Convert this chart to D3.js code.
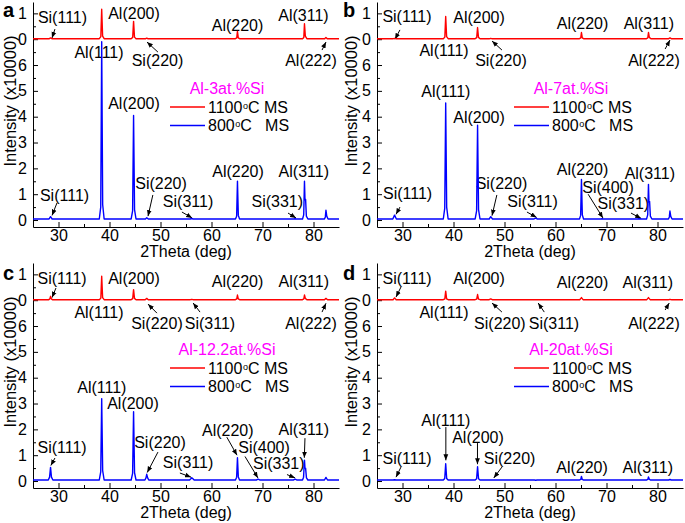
<!DOCTYPE html>
<html><head><meta charset="utf-8">
<script src="https://cdn.jsdelivr.net/npm/d3@7"></script>
<style>
body{margin:0;background:#fff}
svg{display:block}
text{font-family:"Liberation Sans",Arial,sans-serif;fill:#000}
</style>
</head><body>
<svg id="chart" width="685" height="523"></svg>
<script>
// ---------- data ----------
const xDomain = [25, 85];
const xTicks = [30, 40, 50, 60, 70, 80];
const xMinorTicks = [35, 45, 55, 65, 75];
const yTicks = [0, 1, 2, 3, 4, 5, 6, 7, 8];
const yTickLabels = ["0", "1", "2", "3", "4", "5", "6", "0", "1"];
const yMinorTicks = [0.5, 1.5, 2.5, 3.5, 4.5, 5.5, 6.5, 7.5];
const redOffset = 7; // broken axis: upper segment shows 1100C pattern from 0
const panelLetters = ["a", "b", "c", "d"];
const alloyNames = ["Al-3at.%Si", "Al-7at.%Si", "Al-12.2at.%Si", "Al-20at.%Si"];
const seriesTemps = ["1100", "800"];
const seriesTails = ["C MS", "C   MS"];
const xTitle = "2Theta (deg)";
const yTitle = "Intensity (x10000)";

// [2theta, intensity x10000]
const red_a = [[25,0.02],[28.2,0.02],[28.44,0.05],[28.7,0.02],
 [38.0,0.02],[38.3,0.1],[38.47,1.16],[38.65,0.12],[38.95,0.02],
 [44.25,0.02],[44.55,0.07],[44.72,0.69],[44.9,0.08],[45.2,0.02],
 [47.1,0.02],[47.3,0.04],[47.5,0.02],
 [64.7,0.02],[64.95,0.05],[65.09,0.3],[65.25,0.05],[65.5,0.02],
 [77.85,0.02],[78.1,0.07],[78.23,0.6],[78.4,0.12],[78.7,0.02],
 [82.2,0.02],[82.44,0.07],[82.7,0.02],[85,0.02]];
const blue_a = [[25,0.04],[28.15,0.04],[28.44,0.13],[28.75,0.04],
 [38.0,0.04],[38.28,0.5],[38.47,6.9],[38.66,0.6],[38.95,0.04],
 [44.25,0.04],[44.53,0.35],[44.72,4.05],[44.91,0.4],[45.2,0.04],
 [47.05,0.04],[47.3,0.09],[47.6,0.04],
 [55.85,0.04],[56.12,0.06],[56.4,0.04],
 [64.7,0.04],[64.93,0.15],[65.09,1.5],[65.26,0.18],[65.5,0.04],
 [76.1,0.04],[76.38,0.05],[76.65,0.04],
 [77.85,0.04],[78.08,0.2],[78.23,1.5],[78.33,0.78],[78.45,0.8],[78.6,0.15],[78.9,0.04],
 [82.15,0.04],[82.32,0.12],[82.44,0.38],[82.6,0.15],[82.85,0.04],[85,0.04]];

const red_b = [[25,0.02],[28.2,0.02],[28.44,0.03],[28.7,0.02],
 [38.0,0.02],[38.3,0.08],[38.47,0.88],[38.65,0.1],[38.95,0.02],
 [44.25,0.02],[44.55,0.06],[44.72,0.45],[44.9,0.07],[45.2,0.02],
 [47.1,0.02],[47.3,0.03],[47.5,0.02],
 [64.7,0.02],[64.95,0.05],[65.09,0.26],[65.25,0.05],[65.5,0.02],
 [77.85,0.02],[78.1,0.05],[78.23,0.26],[78.4,0.07],[78.7,0.02],
 [82.2,0.02],[82.44,0.05],[82.7,0.02],[85,0.02]];
const blue_b = [[25,0.04],[28.1,0.04],[28.44,0.19],[28.8,0.04],
 [38.0,0.04],[38.28,0.45],[38.47,4.53],[38.66,0.5],[38.95,0.04],
 [44.25,0.04],[44.53,0.35],[44.72,3.67],[44.91,0.4],[45.2,0.04],
 [47.0,0.04],[47.3,0.13],[47.65,0.04],
 [55.8,0.04],[56.12,0.07],[56.45,0.04],
 [64.7,0.04],[64.93,0.18],[65.09,1.57],[65.26,0.2],[65.5,0.04],
 [68.9,0.04],[69.13,0.05],[69.4,0.04],
 [76.1,0.04],[76.38,0.05],[76.65,0.04],
 [77.85,0.04],[78.08,0.2],[78.23,1.38],[78.33,0.7],[78.45,0.72],[78.6,0.15],[78.9,0.04],
 [82.15,0.04],[82.32,0.12],[82.44,0.35],[82.6,0.14],[82.85,0.04],[85,0.04]];

const red_c = [[25,0.02],[28.1,0.02],[28.3,0.05],[28.44,0.15],[28.6,0.05],[28.8,0.02],
 [38.0,0.02],[38.3,0.08],[38.47,0.93],[38.65,0.1],[38.95,0.02],
 [44.25,0.02],[44.55,0.06],[44.72,0.41],[44.9,0.07],[45.2,0.02],
 [47.0,0.02],[47.3,0.07],[47.6,0.02],
 [55.85,0.02],[56.12,0.03],[56.4,0.02],
 [64.7,0.02],[64.95,0.05],[65.09,0.2],[65.25,0.05],[65.5,0.02],
 [77.85,0.02],[78.1,0.05],[78.23,0.2],[78.4,0.07],[78.7,0.02],
 [82.15,0.02],[82.44,0.07],[82.75,0.02],[85,0.02]];
const blue_c = [[25,0.04],[28.0,0.04],[28.25,0.15],[28.44,0.53],[28.62,0.15],[28.9,0.04],
 [38.0,0.04],[38.28,0.35],[38.47,3.19],[38.66,0.4],[38.95,0.04],
 [44.25,0.04],[44.53,0.3],[44.72,2.68],[44.91,0.32],[45.2,0.04],
 [46.95,0.04],[47.15,0.12],[47.3,0.26],[47.48,0.12],[47.7,0.04],
 [55.7,0.04],[56.0,0.1],[56.12,0.13],[56.3,0.1],[56.6,0.04],
 [64.7,0.04],[64.93,0.15],[65.09,0.9],[65.26,0.16],[65.5,0.04],
 [68.8,0.04],[69.13,0.07],[69.45,0.04],
 [76.05,0.04],[76.38,0.07],[76.7,0.04],
 [77.85,0.04],[78.05,0.15],[78.23,0.81],[78.33,0.5],[78.45,0.5],[78.62,0.12],[78.9,0.04],
 [82.15,0.04],[82.44,0.14],[82.75,0.04],[85,0.04]];

const red_d = [[25,0.02],[28.15,0.02],[28.44,0.09],[28.75,0.02],
 [38.0,0.02],[38.3,0.05],[38.47,0.35],[38.65,0.05],[38.95,0.02],
 [44.25,0.02],[44.55,0.04],[44.72,0.22],[44.9,0.04],[45.2,0.02],
 [47.0,0.02],[47.3,0.05],[47.6,0.02],
 [55.85,0.02],[56.12,0.02],[56.4,0.02],
 [64.75,0.02],[65.09,0.1],[65.4,0.02],
 [77.9,0.02],[78.23,0.1],[78.55,0.02],
 [82.2,0.02],[82.44,0.03],[82.7,0.02],[85,0.02]];
const blue_d = [[25,0.04],[28.15,0.04],[28.44,0.05],[28.75,0.04],
 [38.0,0.04],[38.28,0.1],[38.47,0.67],[38.66,0.1],[38.95,0.04],
 [44.25,0.04],[44.53,0.09],[44.72,0.55],[44.91,0.09],[45.2,0.04],
 [47.05,0.04],[47.3,0.04],[47.55,0.04],
 [55.85,0.04],[56.12,0.03],[56.4,0.04],
 [64.75,0.04],[64.95,0.06],[65.09,0.18],[65.25,0.06],[65.45,0.04],
 [77.9,0.04],[78.1,0.06],[78.23,0.16],[78.4,0.07],[78.6,0.04],
 [82.2,0.04],[82.44,0.06],[82.7,0.04],[85,0.04]];

// annotation: [text, label 2theta, label value, arrow tail 2theta, tail value, head 2theta, head value]
const notes_a = [
 ["Si(111)", 30.78, 7.86, 29.3, 7.39, 28.73, 7.05],
 ["Al(200)", 44.8, 7.98],
 ["Al(220)", 65.1, 7.55],
 ["Al(311)", 78.04, 7.94],
 ["Al(111)", 37.94, 6.5],
 ["Si(220)", 49.41, 6.16, 49.5, 6.5, 47.35, 6.89],
 ["Al(222)", 79.5, 6.16, 81.67, 6.58, 82.45, 6.89],
 ["Al(200)", 44.8, 4.53],
 ["Si(111)", 31.18, 0.97, 29.7, 0.66, 28.73, 0.18],
 ["Si(220)", 50.1, 1.43, 48.5, 0.97, 47.55, 0.15],
 ["Si(311)", 55.4, 0.74, 54.2, 0.31, 56.2, 0.08],
 ["Al(220)", 65.2, 1.9],
 ["Al(311)", 78.1, 1.9],
 ["Si(331)", 72.9, 0.74, 75, 0.27, 76.57, 0.08]
];
const notes_b = [
 ["Si(111)", 30.88, 7.9, 29.5, 7.36, 28.53, 7.0],
 ["Al(200)", 45, 7.86],
 ["Al(220)", 65.3, 7.63],
 ["Al(311)", 78.3, 7.63],
 ["Al(111)", 38.14, 6.58],
 ["Si(220)", 49.3, 6.16, 49.5, 6.58, 47.55, 6.93],
 ["Al(222)", 79.3, 6.16, 81.5, 6.62, 82.45, 6.97],
 ["Al(111)", 38.5, 4.96],
 ["Al(200)", 45, 3.99],
 ["Si(111)", 31, 1.05, 29.5, 0.5, 28.73, 0.22],
 ["Si(220)", 49.4, 1.43, 48.5, 0.97, 47.55, 0.17],
 ["Si(311)", 55.5, 0.74, 54.4, 0.31, 56.3, 0.1],
 ["Al(220)", 65.3, 1.97],
 ["Si(400)", 70.3, 1.26, 66.4, 1.0, 69.3, 0.08],
 ["Si(331)", 73.3, 0.64, 74.8, 0.27, 76.8, 0.06],
 ["Al(311)", 78.5, 1.82]
];
const notes_c = [
 ["Si(111)", 30.7, 7.86, 29.5, 7.47, 28.73, 7.1],
 ["Al(200)", 44.8, 7.86],
 ["Al(220)", 65.1, 7.74],
 ["Al(311)", 78.1, 7.74],
 ["Al(111)", 37.94, 6.54],
 ["Si(220)", 49.3, 6.12, 49.3, 6.5, 47.55, 6.85],
 ["Si(311)", 59.7, 6.12, 57.75, 6.54, 56.4, 6.89],
 ["Al(222)", 79.5, 6.12, 81.67, 6.54, 82.45, 6.88],
 ["Al(111)", 38.5, 3.64],
 ["Al(200)", 44.6, 3.02],
 ["Si(111)", 30.7, 1.32, 29.3, 0.89, 28.5, 0.6],
 ["Si(220)", 49.9, 1.51, 49.5, 1.12, 47.4, 0.33],
 ["Si(311)", 55.4, 0.74, 53.8, 0.31, 56.0, 0.15],
 ["Al(220)", 63.2, 1.97, 63.0, 1.7, 65.0, 1.0],
 ["Si(400)", 70.3, 1.32, 66.57, 0.95, 69.1, 0.12],
 ["Si(331)", 73.2, 0.69, 74.8, 0.25, 76.4, 0.12],
 ["Al(311)", 78.1, 2.01, 78.33, 1.66, 78.2, 0.9]
];
const notes_d = [
 ["Si(111)", 30.9, 7.86, 29.7, 7.51, 28.73, 7.12],
 ["Al(200)", 45, 7.86],
 ["Al(220)", 65.3, 7.7],
 ["Al(311)", 78.1, 7.7],
 ["Al(111)", 38.14, 6.54],
 ["Si(220)", 49.1, 6.12, 49.5, 6.54, 47.55, 6.89],
 ["Si(311)", 59.7, 6.12, 57.8, 6.54, 56.6, 6.89],
 ["Al(222)", 79.3, 6.12, 81.5, 6.62, 82.3, 6.89],
 ["Al(111)", 38.5, 2.36, 38.5, 2.09, 38.5, 0.8],
 ["Al(200)", 44.8, 1.7, 44.7, 1.47, 44.7, 0.65],
 ["Si(111)", 30.9, 0.89, 29.7, 0.54, 28.73, 0.15],
 ["Si(220)", 51, 0.89, 49.5, 0.54, 47.9, 0.12],
 ["Al(220)", 65.2, 0.54],
 ["Al(311)", 78.1, 0.54]
];

const redSeries = [red_a, red_b, red_c, red_d];
const blueSeries = [blue_a, blue_b, blue_c, blue_d];
const notesAll = [notes_a, notes_b, notes_c, notes_d];

// ---------- layout / drawing ----------
const RED = "#ff0000", BLUE = "#0000ff", MAGENTA = "#ff00ff";
const svg = d3.select("#chart");
const defs = svg.append("defs");
defs.append("marker").attr("id", "ah").attr("viewBox", "0 0 10 10")
  .attr("refX", 10).attr("refY", 5).attr("markerWidth", 6).attr("markerHeight", 6)
  .attr("markerUnits", "userSpaceOnUse").attr("orient", "auto")
  .append("path").attr("d", "M0,1 L10,5 L0,9 Z").attr("fill", "#000");

const offsets = [[0, 0], [344, 0], [0, 261], [344, 261]];
const x = d3.scaleLinear().domain(xDomain).range([33, 339]);
const y = d3.scaleLinear().domain([-0.27, 8.44]).range([227, 2]);

panelLetters.forEach((letter, i) => {
  const g = svg.append("g").attr("transform", `translate(${offsets[i][0]},${offsets[i][1]})`);

  // axes
  g.append("g").attr("transform", `translate(0,${y.range()[0]})`)
    .call(d3.axisBottom(x).tickValues(xTicks).tickSizeInner(-5).tickSizeOuter(0).tickPadding(3));
  g.append("g").attr("transform", `translate(0,${y.range()[0]})`)
    .call(d3.axisBottom(x).tickValues(xMinorTicks).tickSizeInner(-3).tickSizeOuter(0).tickFormat(""))
    .select(".domain").remove();
  g.append("g").attr("transform", `translate(${x.range()[0]},0)`)
    .call(d3.axisLeft(y).tickValues(yTicks).tickFormat((d, k) => yTickLabels[k])
      .tickSizeInner(-5).tickSizeOuter(0).tickPadding(6));
  g.append("g").attr("transform", `translate(${x.range()[0]},0)`)
    .call(d3.axisLeft(y).tickValues(yMinorTicks).tickSizeInner(-3).tickSizeOuter(0).tickFormat(""))
    .select(".domain").remove();
  g.selectAll(".tick text").attr("font-size", 16).attr("font-family", "Liberation Sans, Arial, sans-serif").attr("fill", "#000");
  g.selectAll(".domain, .tick line").attr("stroke", "#000").attr("stroke-width", 1);

  // titles
  g.append("text").attr("x", (x.range()[0] + x.range()[1]) / 2).attr("y", 257)
    .attr("text-anchor", "middle").attr("font-size", 16).text(xTitle);
  g.append("text").attr("transform", `translate(${i % 2 ? 7 : 10},101) rotate(-90)`)
    .attr("text-anchor", "middle").attr("dy", "0.35em").attr("font-size", 16.5).text(yTitle);
  g.append("text").attr("x", i % 2 ? -1 : 3).attr("y", i < 2 ? 17 : 19)
    .attr("font-size", 20).attr("font-weight", "bold").text(letter);

  // annotations
  notesAll[i].forEach(n => {
    g.append("text").attr("x", x(n[1])).attr("y", y(n[2])).attr("dy", "0.35em")
      .attr("text-anchor", "middle").attr("font-size", 16).text(n[0]);
    if (n.length > 3) {
      g.append("line").attr("x1", x(n[3])).attr("y1", y(n[4]))
        .attr("x2", x(n[5])).attr("y2", y(n[6]))
        .attr("stroke", "#000").attr("stroke-width", 1).attr("marker-end", "url(#ah)");
    }
  });

  // spectra
  const line = d3.line().x(d => x(d[0]));
  g.append("path").datum(blueSeries[i])
    .attr("d", line.y(d => y(d[1]))).attr("fill", "none").attr("stroke", BLUE).attr("stroke-width", 1.4)
    .attr("stroke-linejoin", "round");
  g.append("path").datum(redSeries[i])
    .attr("d", line.y(d => y(d[1] + redOffset))).attr("fill", "none").attr("stroke", RED).attr("stroke-width", 1.4)
    .attr("stroke-linejoin", "round");

  // legend
  const lg = g.append("g").attr("transform", `translate(${x.range()[0]},0)`);
  lg.append("text").attr("x", 194).attr("y", 88).attr("dy", "0.35em").attr("text-anchor", "middle")
    .attr("font-size", 16).style("fill", MAGENTA).text(alloyNames[i]);
  [RED, BLUE].forEach((c, k) => {
    const cy = 107 + k * 18.5;
    lg.append("line").attr("x1", 137).attr("x2", 172).attr("y1", cy).attr("y2", cy)
      .attr("stroke", c).attr("stroke-width", 1.5);
    const t = lg.append("text").attr("x", 175).attr("y", cy + 5.7).attr("font-size", 16).style("white-space", "pre");
    t.append("tspan").text(seriesTemps[k]);
    t.append("tspan").attr("font-size", 9).attr("dy", -4).attr("dx", 0.5).text("o");
    t.append("tspan").attr("dy", 4).text(seriesTails[k]);
  });
});
</script>
</body></html>
